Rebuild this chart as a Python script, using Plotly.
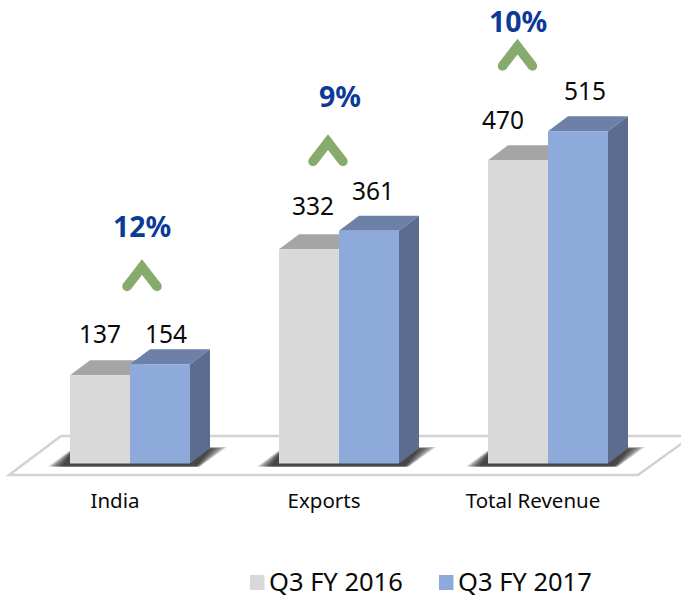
import plotly.graph_objects as go

categories = ["India", "Exports", "Total Revenue"]
q3_fy_2016 = [137, 332, 470]
q3_fy_2017 = [154, 361, 515]
growth_labels = ["12%", "9%", "10%"]
series_names = ["Q3 FY 2016", "Q3 FY 2017"]

W, H = 681, 596
BASE_PY, UNIT_PX = 463.5, 0.645
FIRST_CX, STEP_PX = 130, 209
BAR_PX, DX, DY = 60, 20, 15
FONT = "Noto Sans"
C_GRAY, C_BLUE = "#d9d9d9", "#8eaadb"
C_GRAY_TOP, C_BLUE_TOP, C_BLUE_SIDE = "#a5a5a5", "#6d80a8", "#5c6c8f"
C_GREEN, C_TEXT_BLUE = "#87ab6d", "#0b3b96"


def dx(px):
    return (px - FIRST_CX) / STEP_PX


def dy(py):
    return (BASE_PY - py) / UNIT_PX


def poly(points, fill, opacity=1.0, line=None, width=0):
    path = "M " + " L ".join(f"{dx(x):.5f},{dy(y):.3f}" for x, y in points) + " Z"
    return dict(type="path", path=path, xref="x", yref="y", layer="below",
                fillcolor=fill, opacity=opacity,
                line=dict(color=line or fill, width=width))


idx = list(range(len(categories)))
shapes = [poly([(9, 475), (61, 436), (692, 436), (638, 475)], "white", line="#d2d2d2", width=2.5)]

for i in idx:
    cx = FIRST_CX + STEP_PX * i
    left, right = cx - BAR_PX, cx + BAR_PX
    for k in range(10):
        t = k / 9
        shapes.append(poly([(left - 22 + 14 * t, 466.5), (right + 10 - 4 * t, 466.5),
                            (right + 37 - 17 * t, 447 + 2 * t), (right + 10, 447 + 2 * t),
                            (left + 2, 449 + 3 * t)], "#1c1c1c", opacity=0.15))
    top_g = BASE_PY - q3_fy_2016[i] * UNIT_PX
    top_b = BASE_PY - q3_fy_2017[i] * UNIT_PX
    shapes.append(poly([(left, top_g), (left + DX, top_g - DY), (cx + DX, top_g - DY), (cx, top_g)], C_GRAY_TOP))
    shapes.append(poly([(cx, top_b), (cx + DX, top_b - DY), (right + DX, top_b - DY), (right, top_b)], C_BLUE_TOP))
    shapes.append(poly([(right, top_b), (right + DX, top_b - DY), (right + DX, BASE_PY - DY), (right, BASE_PY)], C_BLUE_SIDE))

fig = go.Figure()
width = BAR_PX / STEP_PX
fig.add_bar(x=idx, y=q3_fy_2016, name=series_names[0], marker=dict(color=C_GRAY, line=dict(width=0)),
            width=width, offset=-width, showlegend=False)
fig.add_bar(x=idx, y=q3_fy_2017, name=series_names[1], marker=dict(color=C_BLUE, line=dict(width=0)),
            width=width, offset=0, showlegend=False)

# growth chevrons
chevron_cx = [142, 328, 517.5]
chevron_apex = [267, 142, 46.5]
for cx, ay in zip(chevron_cx, chevron_apex):
    fig.add_scatter(x=[dx(cx - 15), dx(cx), dx(cx + 15)], y=[dy(ay + 19.5), dy(ay), dy(ay + 19.5)],
                    mode="lines+markers", line=dict(color=C_GREEN, width=9.5),
                    marker=dict(color=C_GREEN, size=9.5), hoverinfo="skip", showlegend=False)

annotations = []
label_dx_g = [-30, -26, -45]
label_dx_b = [36, 34, 37]
value_offsets_g = [-42, -44, -41]
value_offsets_b = [-31, -40, -41]
for i in idx:
    cx = FIRST_CX + STEP_PX * i
    annotations.append(dict(x=dx(cx + label_dx_g[i]), y=q3_fy_2016[i], text=str(q3_fy_2016[i]),
                            yshift=-value_offsets_g[i], showarrow=False, xanchor="center", yanchor="middle",
                            font=dict(family=FONT, size=24.5, color="#0a0a0a")))
    annotations.append(dict(x=dx(cx + label_dx_b[i]), y=q3_fy_2017[i], text=str(q3_fy_2017[i]),
                            yshift=-value_offsets_b[i], showarrow=False, xanchor="center", yanchor="middle",
                            font=dict(family=FONT, size=24.5, color="#0a0a0a")))

growth_px = [(142, 226), (340, 96), (518, 21)]
for (x, y), label in zip(growth_px, growth_labels):
    annotations.append(dict(x=dx(x), y=dy(y), text=f"<b>{label}</b>", showarrow=False,
                            font=dict(family=FONT, size=28.5, color=C_TEXT_BLUE)))

# legend
legend_items = [(250, C_GRAY, series_names[0]), (439, C_BLUE, series_names[1])]
for x0, color, name in legend_items:
    shapes.append(dict(type="rect", xref="x", yref="y", x0=dx(x0), x1=dx(x0 + 14.5), y0=dy(590), y1=dy(575),
                       fillcolor=color, line=dict(width=0), layer="below"))
    annotations.append(dict(x=dx(x0 + 17), y=dy(581), text=name, showarrow=False, xanchor="left",
                            font=dict(family=FONT, size=25.5, color="#0a0a0a")))

fig.update_layout(
    width=W, height=H, margin=dict(l=0, r=0, t=0, b=0), paper_bgcolor="white", plot_bgcolor="white",
    barmode="overlay", shapes=shapes, annotations=annotations, showlegend=False,
    xaxis=dict(range=[dx(0), dx(W)], tickmode="array", tickvals=[i - 15 / STEP_PX for i in idx], ticktext=categories,
               showgrid=False, zeroline=False, showline=False, ticks="", anchor="free",
               position=(H - BASE_PY) / H, ticklabelstandoff=23,
               tickfont=dict(family=FONT, size=20.5, color="#0a0a0a")),
    yaxis=dict(range=[dy(H), dy(0)], visible=False, showgrid=False, zeroline=False),
)
fig.write_html("out.html", config=dict(displayModeBar=False),
               post_script="document.body.style.margin='0';document.documentElement.style.overflow='hidden';")
